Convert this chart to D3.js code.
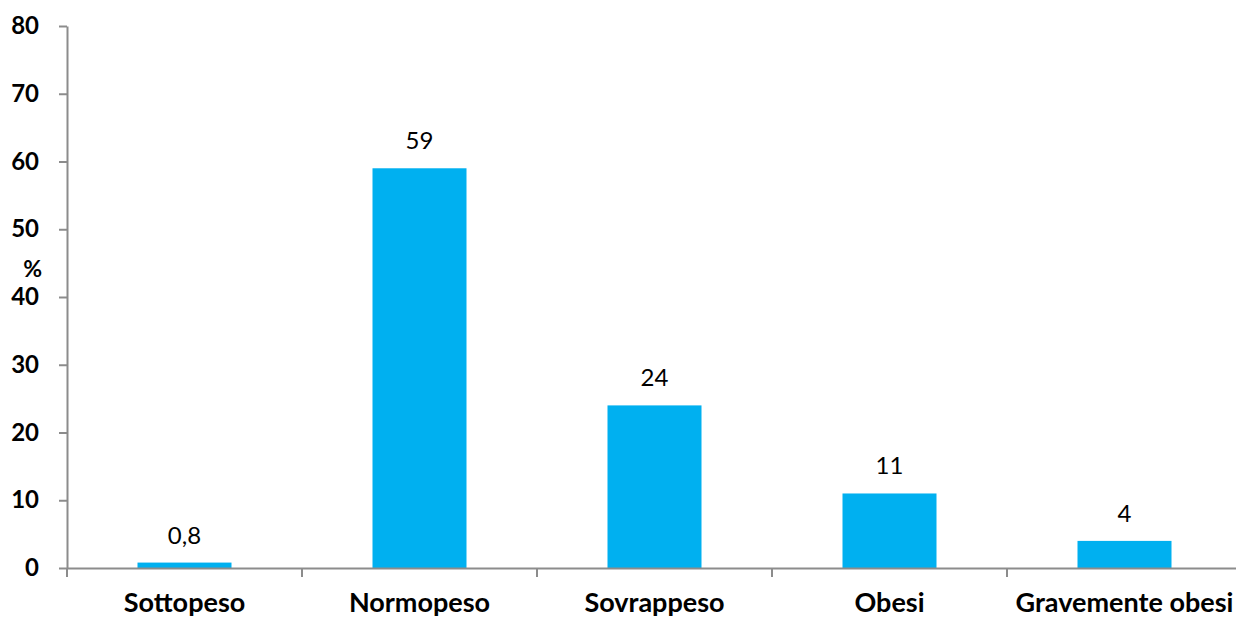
<!DOCTYPE html>
<html>
<head>
<meta charset="utf-8">
<script src="https://cdn.jsdelivr.net/npm/d3@7"></script>
<style>
  body { margin: 0; background: #fff; }
  svg { display: block; font-family: Lato, "Open Sans", sans-serif; }
</style>
</head>
<body>
<div id="chart"></div>
<script>
// dati del grafico
const categories = ["Sottopeso", "Normopeso", "Sovrappeso", "Obesi", "Gravemente obesi"];
const values = [0.8, 59, 24, 11, 4];
const valueLabels = ["0,8", "59", "24", "11", "4"];
const yTicks = [0, 10, 20, 30, 40, 50, 60, 70, 80];

const W = 1236, H = 619;
const margin = {top: 26, left: 67, bottom: 51};

const svg = d3.select("#chart").append("svg")
    .attr("width", W)
    .attr("height", H);

const x = d3.scaleBand()
    .domain(categories)
    .range([margin.left, margin.left + 5 * 235]);

const y = d3.scaleLinear()
    .domain([0, 80])
    .range([H - margin.bottom, margin.top]);

const axisColor = "#8c8c8c";

// asse Y
const gy = svg.append("g")
    .attr("transform", "translate(" + margin.left + ",0)")
    .call(d3.axisLeft(y).tickValues(yTicks).tickSize(8).tickSizeOuter(0).tickPadding(20));
gy.select(".domain").attr("stroke", axisColor).attr("stroke-width", 2);
gy.selectAll(".tick line").attr("stroke", axisColor).attr("stroke-width", 2);
gy.selectAll(".tick text")
    .attr("fill", "#000")
    .style("font-size", "24px")
    .style("font-weight", "bold")
    .style("font-family", "Lato, sans-serif");

// etichetta %
svg.append("text")
    .attr("x", 42)
    .attr("y", y(44.3))
    .attr("text-anchor", "end")
    .attr("dominant-baseline", "central")
    .style("font-size", "23px")
    .style("font-weight", "bold")
    .text("%");

// barre
const barW = x.bandwidth() * 0.4;
svg.selectAll(".bar")
    .data(values)
    .enter()
    .append("rect")
    .attr("class", "bar")
    .attr("x", function(d, i) { return x(categories[i]) + (x.bandwidth() - barW) / 2; })
    .attr("y", function(d) { return y(d); })
    .attr("width", barW)
    .attr("height", function(d) { return y(0) - y(d); })
    .attr("fill", "#00b0f0");

// valori sopra le barre
svg.selectAll(".val")
    .data(values)
    .enter()
    .append("text")
    .attr("class", "val")
    .attr("x", function(d, i) { return x(categories[i]) + x.bandwidth() / 2; })
    .attr("y", function(d) { return y(d) - 19; })
    .attr("text-anchor", "middle")
    .style("font-size", "24px")
    .text(function(d, i) { return valueLabels[i]; });

// asse X
const gx = svg.append("g")
    .attr("transform", "translate(0," + y(0) + ")")
    .call(d3.axisBottom(x).tickSize(0).tickPadding(25));
gx.select(".domain").attr("stroke", axisColor).attr("stroke-width", 2);
gx.selectAll(".tick text")
    .attr("fill", "#000")
    .style("font-size", "27px")
    .style("font-weight", "bold")
    .style("font-family", "Lato, sans-serif");

// tacche tra le categorie
const sep = categories.map(function(c) { return x(c); }).concat([x.range()[1]]);
svg.selectAll(".sep")
    .data(sep)
    .enter()
    .append("line")
    .attr("x1", function(d) { return d; })
    .attr("x2", function(d) { return d; })
    .attr("y1", y(0))
    .attr("y2", y(0) + 9)
    .attr("stroke", axisColor)
    .attr("stroke-width", 2);
</script>
</body>
</html>
